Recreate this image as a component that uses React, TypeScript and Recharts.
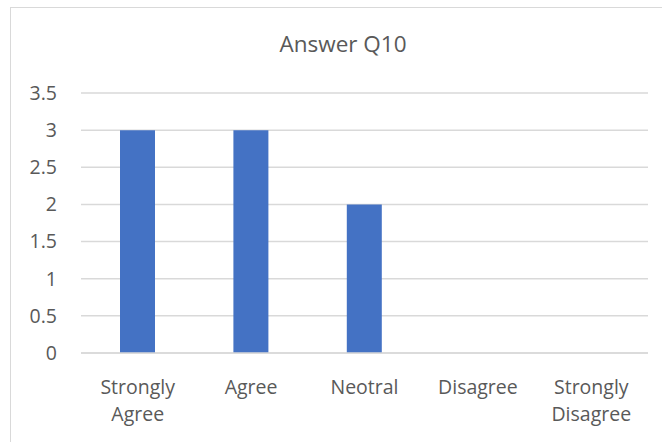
import { BarChart, Bar, XAxis, YAxis, CartesianGrid } from "recharts"

const answers = ["Strongly Agree", "Agree", "Neotral", "Disagree", "Strongly Disagree"]
const counts = [3, 3, 2, 0, 0]
const yTicks = [0, 0.5, 1, 1.5, 2, 2.5, 3, 3.5]

const data = answers.map((answer, i) => ({ answer, count: counts[i] }))

const FONT = "'Open Sans', 'Liberation Sans', sans-serif"
const TEXT = "#595959"

// each word of the category on its own line, like Excel wraps them
const AnswerTick = (props: any) => {
  const { x, y, payload } = props
  const words = String(payload.value).split(" ")
  return (
    <text x={x} y={y} textAnchor="middle" fill={TEXT} fontSize={19.5} fontFamily={FONT}>
      {words.map((w, i) => (
        <tspan key={i} x={x} dy={i === 0 ? 39 : 27}>
          {w}
        </tspan>
      ))}
    </text>
  )
}

const App = () => {
  return (
    <div style={{ position: "fixed", left: 0, top: 0, width: 662, height: 442, overflow: "hidden", background: "#fff" }}>
      <div
        style={{
          position: "absolute",
          left: 10,
          top: 7,
          width: 700,
          height: 500,
          border: "1px solid #d9d9d9",
          boxSizing: "border-box",
        }}
      />
      <div
        style={{
          position: "absolute",
          left: 12,
          top: 28,
          width: 662,
          textAlign: "center",
          fontFamily: FONT,
          fontSize: 22.5,
          color: TEXT,
          whiteSpace: "nowrap",
        }}
      >
        Answer Q10
      </div>
      <div style={{ position: "absolute", left: 0, top: 0 }}>
        <BarChart width={662} height={442} data={data} margin={{ top: 93, right: 14, bottom: 0, left: 0 }}>
          <CartesianGrid vertical={false} stroke="#d9d9d9" strokeWidth={1.5} />
          <XAxis
            dataKey="answer"
            height={89}
            axisLine={{ stroke: "#d9d9d9", strokeWidth: 1.5 }}
            tickLine={false}
            tickSize={0}
            interval={0}
            tick={<AnswerTick />}
          />
          <YAxis
            width={81}
            domain={[0, 3.5]}
            ticks={yTicks}
            axisLine={false}
            tickLine={false}
            tickSize={0}
            tickMargin={24}
            tick={{ fill: TEXT, fontSize: 19.5, fontFamily: FONT }}
          />
          <Bar dataKey="count" fill="#4472c4" barSize={35} isAnimationActive={false} />
        </BarChart>
      </div>
    </div>
  )
}

export default App
